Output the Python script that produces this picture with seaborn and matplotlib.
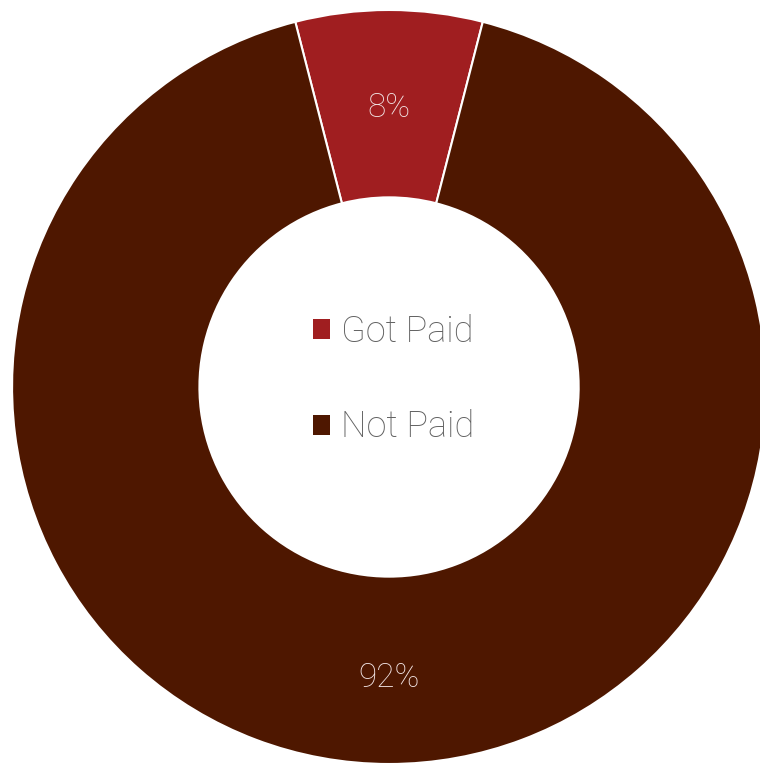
import matplotlib
matplotlib.use("Agg")
import matplotlib.pyplot as plt
import seaborn as sns
from matplotlib.patches import Patch

sns.set_style("white")
plt.rcParams["font.family"] = ["Roboto", "DejaVu Sans"]

categories = ["Got Paid", "Not Paid"]
shares = [8, 92]
colors = ["#A01E20", "#4E1700"]

fig = plt.figure(figsize=(7.6, 7.64), dpi=100)
ax = fig.add_axes([0, 0, 1, 1])

# ring centred on the top wedge
start = 90 - shares[0] / sum(shares) * 360 / 2
wedges, _, pct = ax.pie(
    shares,
    colors=colors,
    startangle=start,
    counterclock=True,
    radius=1.0,
    autopct="%1.0f%%",
    pctdistance=0.755,
    wedgeprops=dict(width=0.497, edgecolor="white", linewidth=1.5),
    textprops=dict(color="#F2E4E4", fontsize=24, fontweight="light"),
)
# nudge the percentage labels a touch lower inside the ring
for t in pct:
    x, y = t.get_position()
    t.set_position((x, y - 0.016))

ax.set_xlim(-1.032, 0.984)
ax.set_ylim(-1.0, 1.0265)
ax.set_aspect("auto")
ax.axis("off")

handles = [Patch(facecolor=c, edgecolor="none") for c in colors]
leg = ax.legend(
    handles, categories,
    loc="center", bbox_to_anchor=(0.518, 0.503), bbox_transform=fig.transFigure,
    frameon=False, fontsize=26, handlelength=0.48, handleheight=0.48,
    handletextpad=0.3, labelspacing=1.65,
)
for t in leg.get_texts():
    t.set_color("#626262")
    t.set_fontweight("light")

fig.savefig("out.png", dpi=100, facecolor="white")
